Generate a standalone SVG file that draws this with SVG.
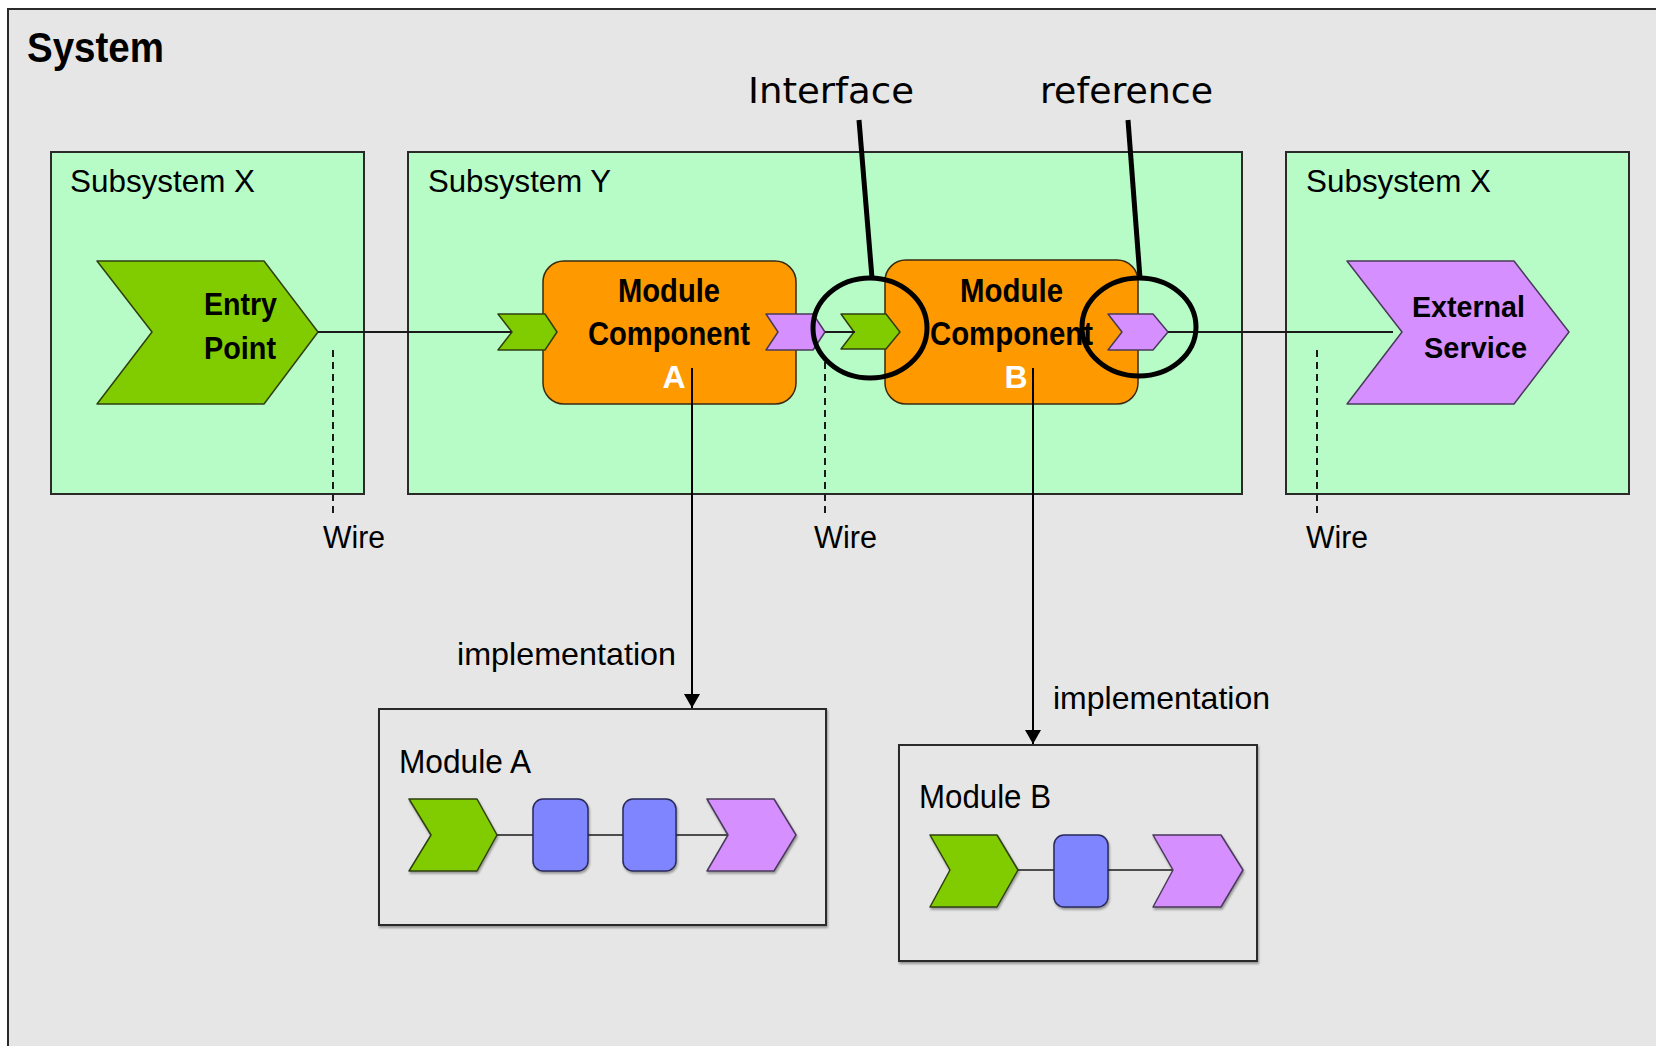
<svg xmlns="http://www.w3.org/2000/svg" width="1656" height="1046" viewBox="0 0 1656 1046">
  <style>
    .box { fill: #b7fbc6; stroke: #2a2a2a; stroke-width: 2; }
    .module { fill: #e6e6e6; stroke: #2a2a2a; stroke-width: 2; }
    .green { fill: #80cc00; stroke: #2f3f10; stroke-width: 1.5; stroke-linejoin: round; }
    .purple { fill: #d58fff; stroke: #4a3a5a; stroke-width: 1.5; stroke-linejoin: round; }
    .orange { fill: #ff9900; stroke: #3a2a10; stroke-width: 1.5; }
    .blue { fill: #7f84ff; stroke: #2a2a5a; stroke-width: 1.5; }
    .wire { stroke: #1a1a1a; stroke-width: 2; fill: none; }
    .link { stroke: #1a1a1a; stroke-width: 1.5; fill: none; }
    .dash { stroke: #1a1a1a; stroke-width: 2; stroke-dasharray: 7 5; fill: none; }
    .impl { stroke: #000; stroke-width: 2; fill: none; }
    .call { stroke: #000; stroke-width: 5; fill: none; }
    .lbl { font-family: "Liberation Sans", Arial, sans-serif; fill: #000; }
    .b { font-weight: bold; }
    .white { fill: #fff; }
    .note { font-family: "DejaVu Sans", sans-serif; font-size: 36px; fill: #000; }
  </style>
  <defs>
    <marker id="arrow" viewBox="0 0 14 16" refX="14" refY="8" markerWidth="14" markerHeight="16" markerUnits="userSpaceOnUse" orient="auto">
      <path d="M0,0 L14,8 L0,16 Z" fill="#000"/>
    </marker>
    <filter id="shadow" x="-5%" y="-5%" width="115%" height="120%">
      <feDropShadow dx="1" dy="2" stdDeviation="0.8" flood-color="#000" flood-opacity="0.35"/>
    </filter>
  </defs>

  <!-- outer system frame -->
  <g id="system">
    <rect x="0" y="0" width="1656" height="1046" fill="#ffffff"/>
    <rect x="9" y="10" width="1647" height="1036" fill="#e6e6e6"/>
    <path d="M1656,9 L8,9 L8,1046" fill="none" stroke="#2a2a2a" stroke-width="2"/>
    <text class="lbl b" x="27" y="62" font-size="42" textLength="137" lengthAdjust="spacingAndGlyphs">System</text>
  </g>

  <!-- subsystems -->
  <g id="subsystem-x-left">
    <rect class="box" x="51" y="152" width="313" height="342"/>
    <text class="lbl" x="70" y="192" font-size="32" textLength="185" lengthAdjust="spacingAndGlyphs">Subsystem X</text>
  </g>
  <g id="subsystem-y">
    <rect class="box" x="408" y="152" width="834" height="342"/>
    <text class="lbl" x="428" y="192" font-size="32" textLength="183" lengthAdjust="spacingAndGlyphs">Subsystem Y</text>
  </g>
  <g id="subsystem-x-right">
    <rect class="box" x="1286" y="152" width="343" height="342"/>
    <text class="lbl" x="1306" y="192" font-size="32" textLength="185" lengthAdjust="spacingAndGlyphs">Subsystem X</text>
  </g>

  <!-- entry point -->
  <g id="entry-point">
    <polygon class="green" points="97,261 264,261 318,332 264,404 97,404 152,332"/>
    <text class="lbl b" x="204" y="315" font-size="31" textLength="73" lengthAdjust="spacingAndGlyphs">Entry</text>
    <text class="lbl b" x="204" y="359" font-size="31" textLength="72" lengthAdjust="spacingAndGlyphs">Point</text>
  </g>

  <!-- module component A -->
  <g id="component-a">
    <rect class="orange" x="543" y="261" width="253" height="143" rx="21" ry="21"/>
    <polygon class="green" points="498,314 545,314 557,332 545,350 498,350 512,332"/>
    <polygon class="purple" points="766,314 813,314 825,332 813,350 766,350 778,332"/>
    <text class="lbl b" x="618" y="302" font-size="33" textLength="102" lengthAdjust="spacingAndGlyphs">Module</text>
    <text class="lbl b" x="588" y="345" font-size="33" textLength="162" lengthAdjust="spacingAndGlyphs">Component</text>
    <text class="lbl b white" x="674" y="388" font-size="32" text-anchor="middle">A</text>
  </g>

  <!-- module component B -->
  <g id="component-b">
    <rect class="orange" x="885" y="260" width="253" height="144" rx="21" ry="21"/>
    <polygon class="green" points="841,314 886,314 900,332 886,349 841,349 854,332"/>
    <polygon class="purple" points="1108,314 1153,314 1168,332 1153,350 1108,350 1122,332"/>
    <text class="lbl b" x="960" y="302" font-size="33" textLength="103" lengthAdjust="spacingAndGlyphs">Module</text>
    <text class="lbl b" x="930" y="345" font-size="33" textLength="163" lengthAdjust="spacingAndGlyphs">Component</text>
    <text class="lbl b white" x="1016" y="388" font-size="32" text-anchor="middle">B</text>
  </g>

  <!-- external service -->
  <g id="external-service">
    <polygon class="purple" points="1347,261 1514,261 1569,332 1514,404 1347,404 1402,332"/>
    <text class="lbl b" x="1412" y="317" font-size="29" textLength="113" lengthAdjust="spacingAndGlyphs">External</text>
    <text class="lbl b" x="1424" y="358" font-size="29" textLength="103" lengthAdjust="spacingAndGlyphs">Service</text>
  </g>

  <!-- connectors: wires and implementation links -->
  <g id="connectors">
    <line class="wire" x1="318" y1="332" x2="511" y2="332"/>
    <line class="wire" x1="825" y1="332" x2="855" y2="332"/>
    <line class="wire" x1="1168" y1="332" x2="1393" y2="332"/>
    <line class="dash" x1="333" y1="350" x2="333" y2="514"/>
    <line class="dash" x1="825" y1="362" x2="825" y2="514"/>
    <line class="dash" x1="1317" y1="350" x2="1317" y2="514"/>
    <line class="impl" x1="692" y1="368" x2="692" y2="708" marker-end="url(#arrow)"/>
    <line class="impl" x1="1033" y1="368" x2="1033" y2="744" marker-end="url(#arrow)"/>
  </g>

  <!-- callouts -->
  <g id="interface-callout">
    <line class="call" x1="859" y1="120" x2="872" y2="278"/>
    <ellipse class="call" cx="870" cy="328" rx="57" ry="50"/>
    <text class="note" x="748" y="103" textLength="166" lengthAdjust="spacingAndGlyphs">Interface</text>
  </g>
  <g id="reference-callout">
    <line class="call" x1="1128" y1="120" x2="1140" y2="278"/>
    <ellipse class="call" cx="1139" cy="327" rx="57" ry="49"/>
    <text class="note" x="1040" y="103" textLength="173" lengthAdjust="spacingAndGlyphs">reference</text>
  </g>

  <!-- wire labels -->
  <g id="wire-labels">
    <text class="lbl" x="323" y="548" font-size="31" textLength="62" lengthAdjust="spacingAndGlyphs">Wire</text>
    <text class="lbl" x="814" y="548" font-size="31" textLength="63" lengthAdjust="spacingAndGlyphs">Wire</text>
    <text class="lbl" x="1306" y="548" font-size="31" textLength="62" lengthAdjust="spacingAndGlyphs">Wire</text>
  </g>

  <g id="impl-labels">
    <text class="lbl" x="457" y="665" font-size="32" textLength="219" lengthAdjust="spacingAndGlyphs">implementation</text>
    <text class="lbl" x="1053" y="709" font-size="32" textLength="217" lengthAdjust="spacingAndGlyphs">implementation</text>
  </g>

  <!-- module A implementation -->
  <g id="module-a">
    <rect class="module" x="379" y="709" width="447" height="216" filter="url(#shadow)"/>
    <text class="lbl" x="399" y="773" font-size="33" textLength="132" lengthAdjust="spacingAndGlyphs">Module A</text>
    <line class="link" x1="497" y1="835" x2="533" y2="835"/>
    <line class="link" x1="588" y1="835" x2="623" y2="835"/>
    <line class="link" x1="676" y1="835" x2="729" y2="835"/>
    <polygon class="green" points="409,799 477,799 497,835 477,871 409,871 431,835" filter="url(#shadow)"/>
    <rect class="blue" x="533" y="799" width="55" height="72" rx="10" ry="10" filter="url(#shadow)"/>
    <rect class="blue" x="623" y="799" width="53" height="72" rx="10" ry="10" filter="url(#shadow)"/>
    <polygon class="purple" points="707,799 774,799 796,835 774,871 707,871 728,835" filter="url(#shadow)"/>
  </g>

  <!-- module B implementation -->
  <g id="module-b">
    <rect class="module" x="899" y="745" width="358" height="216" filter="url(#shadow)"/>
    <text class="lbl" x="919" y="808" font-size="33" textLength="132" lengthAdjust="spacingAndGlyphs">Module B</text>
    <line class="link" x1="1018" y1="870" x2="1054" y2="870"/>
    <line class="link" x1="1108" y1="870" x2="1174" y2="870"/>
    <polygon class="green" points="930,835 997,835 1018,870 997,907 930,907 950,870" filter="url(#shadow)"/>
    <rect class="blue" x="1054" y="835" width="54" height="72" rx="10" ry="10" filter="url(#shadow)"/>
    <polygon class="purple" points="1153,835 1221,835 1243,870 1221,907 1153,907 1173,870" filter="url(#shadow)"/>
  </g>
</svg>
